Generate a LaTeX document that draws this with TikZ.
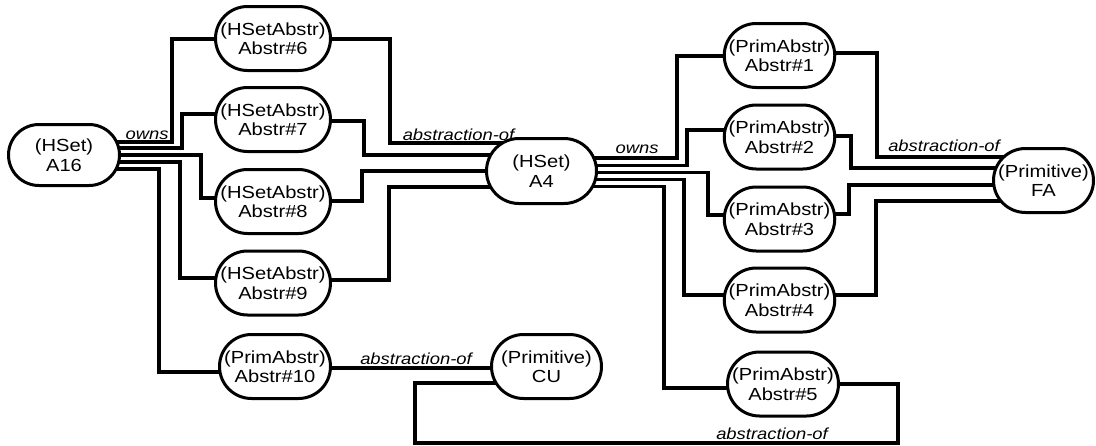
\documentclass[tikz,border=0pt]{standalone}
\usepackage{fontspec}
\setmainfont{Liberation Sans}[FakeStretch=1.15]
\usetikzlibrary{shapes.misc,backgrounds}

\begin{document}
\begin{tikzpicture}[x=1pt,y=-1pt,
  obj/.style={shape=rounded rectangle, draw, line width=3pt, fill=white,
    inner sep=0pt, minimum height=64pt, minimum width=115pt, align=center,
    font=\fontsize{17.5}{19.5}\selectfont},
  wire/.style={line width=3.1pt, line join=miter},
  rel/.style={font=\fontsize{16}{18}\selectfont\itshape, anchor=base, inner sep=0pt}]
\useasboundingbox (0,0) rectangle (1096,445);

% objects
\node[obj, minimum width=111pt, minimum height=61pt] (A16) at (64,155) {(HSet)\\A16};
\node[obj] (Abs6) at (273,38.5) {(HSetAbstr)\\Abstr\#6};
\node[obj] (Abs7) at (273,119.5) {(HSetAbstr)\\Abstr\#7};
\node[obj] (Abs8) at (273,201.5) {(HSetAbstr)\\Abstr\#8};
\node[obj] (Abs9) at (273,283) {(HSetAbstr)\\Abstr\#9};
\node[obj, minimum width=111pt] (Abs10) at (275,366.5) {(PrimAbstr)\\Abstr\#10};
\node[obj, minimum width=110pt, minimum height=65pt] (A4) at (541.5,171) {(HSet)\\A4};
\node[obj, minimum width=110pt] (CU) at (546.5,366.5) {(Primitive)\\CU};
\node[obj, minimum width=110pt] (Abs1) at (779.5,55.5) {(PrimAbstr)\\Abstr\#1};
\node[obj, minimum width=110pt] (Abs2) at (779.5,137) {(PrimAbstr)\\Abstr\#2};
\node[obj, minimum width=110pt] (Abs3) at (779.5,219) {(PrimAbstr)\\Abstr\#3};
\node[obj, minimum width=110pt] (Abs4) at (779.5,300) {(PrimAbstr)\\Abstr\#4};
\node[obj, minimum width=111pt] (Abs5) at (783,384) {(PrimAbstr)\\Abstr\#5};
\node[obj, minimum width=100pt] (FA) at (1043.5,180.5) {(Primitive)\\FA};

% relation labels
\node[rel] (ownsL) at (147,139) {owns};
\node[rel] (absL) at (458.5,140) {abstraction-of};
\node[rel] (ownsR) at (637,153) {owns};
\node[rel] (absR) at (944,151) {abstraction-of};
\node[rel] (absCU) at (416,364) {abstraction-of};
\node[rel] (absB) at (772,439.5) {abstraction-of};

\begin{scope}[on background layer]
% A16 owns its abstractions
\draw[wire] (A16.center |- 0,142) -| (172,39) -- (Abs6.center |- 0,39);
\draw[wire] (A16.center |- 0,148) -| (182,114) -- (Abs7.center |- 0,114);
\draw[wire] (A16.center |- 0,155) -| (201,198) -- (Abs8.center |- 0,198);
\draw[wire] (A16.center |- 0,162) -| (180,278) -- (Abs9.center |- 0,278);
\draw[wire] (A16.center |- 0,169) -| (159,372) -- (Abs10.center |- 0,372);
% abstractions of A4
\draw[wire] (Abs6.center |- 0,39) -| (390,143) -- (A4.center |- 0,143);
\draw[wire] (Abs7.center |- 0,121) -| (364,155) -- (A4.center |- 0,155);
\draw[wire] (Abs8.center |- 0,201) -| (362,171) -- (A4.center |- 0,171);
\draw[wire] (Abs9.center |- 0,280) -| (389,187) -- (A4.center |- 0,187);
% A4 owns its abstractions
\draw[wire] (A4.center |- 0,158) -| (677,56) -- (Abs1.center |- 0,56);
\draw[wire] (A4.center |- 0,165.5) -| (687,130) -- (Abs2.center |- 0,130);
\draw[wire] (A4.center |- 0,172.5) -| (708,215) -- (Abs3.center |- 0,215);
\draw[wire] (A4.center |- 0,179.5) -| (684,295) -- (Abs4.center |- 0,295);
\draw[wire] (A4.center |- 0,186.5) -| (664,388) -- (Abs5.center |- 0,388);
% abstractions of FA
\draw[wire] (Abs1.center |- 0,53) -| (877,157) -- (FA.center |- 0,157);
\draw[wire] (Abs2.center |- 0,136) -| (851,168) -- (FA.center |- 0,168);
\draw[wire] (Abs3.center |- 0,214) -| (849,185) -- (FA.center |- 0,185);
\draw[wire] (Abs4.center |- 0,295) -| (876,201) -- (FA.center |- 0,201);
% abstractions of CU
\draw[wire] (Abs10.center |- 0,368) -- (CU.center |- 0,368);
\draw[wire] (CU.center |- 0,383) -| (415,443) -| (898,384) -- (Abs5.center |- 0,384);
\end{scope}
\end{tikzpicture}
\end{document}
